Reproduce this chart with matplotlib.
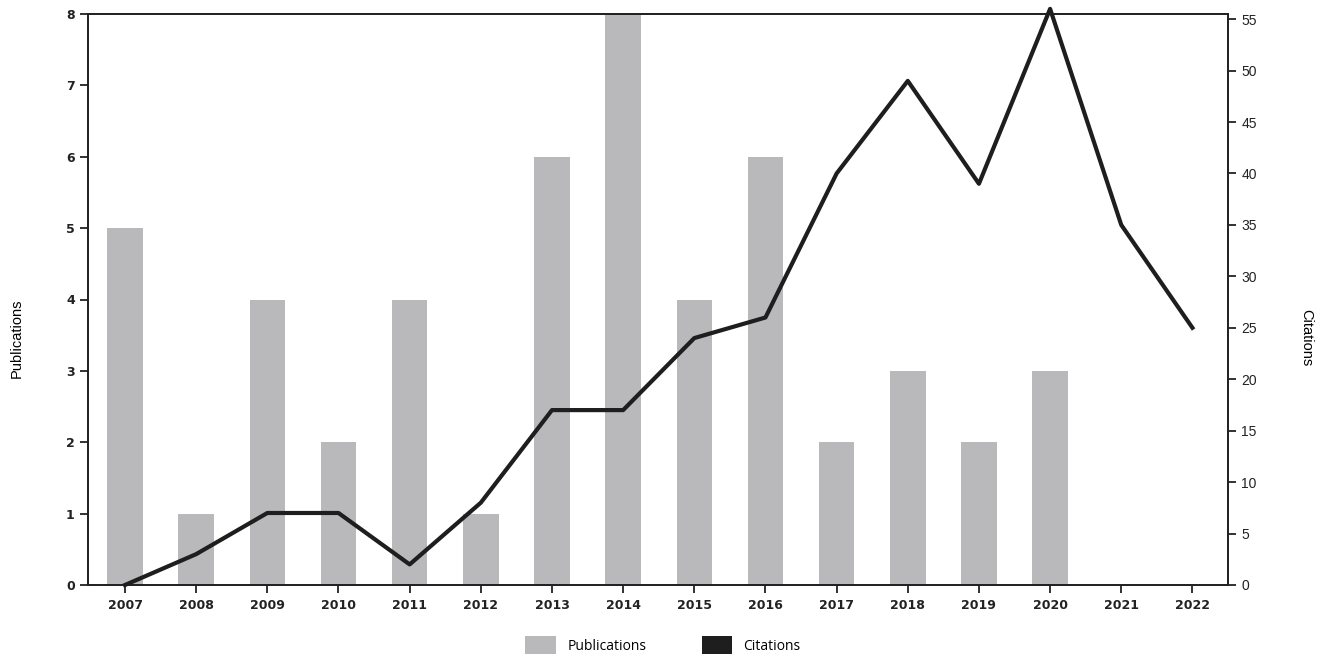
import numpy as np
import matplotlib
matplotlib.use("Agg")
import matplotlib.pyplot as plt
from matplotlib.patches import Patch

years = ["2007", "2008", "2009", "2010", "2011", "2012", "2013", "2014",
         "2015", "2016", "2017", "2018", "2019", "2020", "2021", "2022"]
publications = [5, 1, 4, 2, 4, 1, 6, 8, 4, 6, 2, 3, 2, 3, 0, 0]
citations = [0, 3, 7, 7, 2, 8, 17, 17, 24, 26, 40, 49, 39, 56, 35, 25]

bar_color = "#b9b9bb"
line_color = "#1e1e1e"

fig = plt.figure(figsize=(13.26, 6.55), dpi=100)
ax = fig.add_axes([88 / 1326, 70 / 655, 1140 / 1326, 571 / 655])
x = np.arange(len(years))

ax.bar(x, publications, width=0.5, color=bar_color, zorder=1)
ax.set_xlim(-0.52, 15.5)
ax.set_ylim(0, 8)
ax.set_yticks(range(0, 9))
ax.set_xticks(x)
ax.set_xticklabels(years)
ax.set_ylabel("Publications", family="Liberation Sans", fontsize=10.5)
ax.yaxis.set_label_coords(-0.056, 0.433)

ax2 = ax.twinx()
ax2.plot(x, citations, color=line_color, lw=3, clip_on=False, zorder=3)
ax2.set_ylim(0, 55.5)
ax2.set_yticks(range(0, 56, 5))
ax2.set_ylabel("Citations", family="Liberation Sans", fontsize=10.5, rotation=270)
ax2.yaxis.set_label_coords(1.075, 0.433)

for a in (ax, ax2):
    for s in a.spines.values():
        s.set_linewidth(1.3)
        s.set_color("#222222")
    a.tick_params(length=6, width=1.3, labelsize=9, colors="#222222")
for lbl in ax.get_xticklabels() + ax.get_yticklabels():
    lbl.set_fontweight("bold")
for lbl in ax2.get_yticklabels():
    lbl.set_family("Liberation Sans")
    lbl.set_fontsize(10)
ax.tick_params(axis="x", pad=4)

handles = [Patch(facecolor=bar_color, label="Publications"),
           Patch(facecolor=line_color, label="Citations")]
fig.legend(handles=handles, loc="center", bbox_to_anchor=(0.5, 10 / 655),
           ncol=2, frameon=False, prop={"family": "Open Sans", "size": 10},
           handlelength=2.2, handleheight=1.6, columnspacing=4)

fig.savefig("out.png", dpi=100)
